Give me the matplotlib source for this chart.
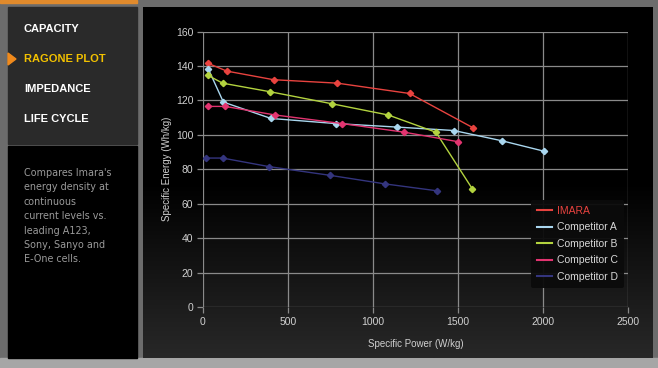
import numpy as np
import matplotlib
matplotlib.use("Agg")
import matplotlib.pyplot as plt
from matplotlib.patches import Rectangle, Polygon

# data
imara_x = [30, 140, 415, 790, 1215, 1590]
imara_y = [141.5, 137, 132, 130, 124, 104]
comp_a_x = [30, 120, 400, 785, 1140, 1475, 1760, 2005]
comp_a_y = [138.5, 119, 109.5, 106.5, 104.5, 102.5, 96.5, 90.5]
comp_b_x = [30, 115, 395, 760, 1090, 1370, 1585]
comp_b_y = [134.5, 130, 125, 118, 111.5, 101.5, 68.5]
comp_c_x = [30, 130, 425, 820, 1185, 1500]
comp_c_y = [116.5, 116.5, 111.5, 106.5, 101.5, 96]
comp_d_x = [20, 115, 390, 745, 1070, 1375]
comp_d_y = [86.5, 86.5, 81.5, 76.5, 71.5, 67.5]

series_names = ["IMARA", "Competitor A", "Competitor B", "Competitor C", "Competitor D"]
series_colors = ["#e8433f", "#a9d6ee", "#b3d33f", "#e23470", "#34357e"]

x_ticks = [0, 500, 1000, 1500, 2000, 2500]
y_ticks = [0, 20, 40, 60, 80, 100, 120, 140, 160]

menu_items = ["CAPACITY", "RAGONE PLOT", "IMPEDANCE", "LIFE CYCLE"]
active_item = "RAGONE PLOT"
description = ("Compares Imara's\nenergy density at\ncontinuous\ncurrent levels vs.\n"
               "leading A123,\nSony, Sanyo and\nE-One cells.")

W, H = 658, 368
narrow = ["Liberation Sans Narrow", "Liberation Sans", "DejaVu Sans"]

fig = plt.figure(figsize=(W / 100, H / 100), dpi=100)
fig.patch.set_facecolor("#6c6c6c")

# page furniture in pixel coordinates
bg = fig.add_axes([0, 0, 1, 1])
bg.axis("off")
bg.add_patch(Rectangle((0, 358), W, 10, color="#a6a6a6"))
bg.add_patch(Rectangle((0, 0), 137, 2.5, color="#e08a2c"))
bg.add_patch(Rectangle((8, 7), 129, 137, color="#2a2a2a"))
bg.add_patch(Rectangle((8, 146), 129, 212, color="#000000"))
grad = np.linspace(0, 1, 256).reshape(-1, 1)
panel_cmap = matplotlib.colors.LinearSegmentedColormap.from_list(
    "panel", ["#000000", "#000000", "#282828"])
bg.imshow(grad, extent=(143, 653, 358, 7), cmap=panel_cmap, aspect="auto", zorder=1)
bg.set_xlim(0, W)
bg.set_ylim(H, 0)

for i, item in enumerate(menu_items):
    y = 29 + 30 * i
    col = "#f2c100" if item == active_item else "#ffffff"
    bg.text(24, y, item, color=col, fontsize=8, fontweight="bold", family=narrow,
            va="center", ha="left")
    if item == active_item:
        bg.add_patch(Polygon([(8, y - 6), (16, y), (8, y + 6)], color="#f08a1c"))

bg.text(24, 168, description, color="#9a9a9a", fontsize=6.9, va="top", ha="left",
        linespacing=1.55, family="DejaVu Sans")

# chart
ax = fig.add_axes([203 / W, 1 - 307 / H, 425 / W, (307 - 31.5) / H])
ax.set_facecolor("none")
all_x = [imara_x, comp_a_x, comp_b_x, comp_c_x, comp_d_x]
all_y = [imara_y, comp_a_y, comp_b_y, comp_c_y, comp_d_y]
for xs, ys, name, c in zip(all_x, all_y, series_names, series_colors):
    ax.plot(xs, ys, color=c, lw=1, marker="D", ms=3.2, label=name, zorder=3)

ax.set_xlim(0, 2500)
ax.set_ylim(0, 160)
ax.set_xticks(x_ticks)
ax.set_yticks(y_ticks)
ax.grid(True, color="#8a8a8a", lw=0.9)
for s in ax.spines.values():
    s.set_visible(False)
ax.tick_params(colors="#8a8a8a", labelcolor="#d0d0d0", length=4, width=0.9, labelsize=7.5, pad=3)
for lab in ax.get_xticklabels() + ax.get_yticklabels():
    lab.set_family(narrow)
ax.set_xlabel("Specific Power (W/kg)", color="#d0d0d0", fontsize=7, family=narrow, labelpad=9)
ax.set_ylabel("Specific Energy (Wh/kg)", color="#d0d0d0", fontsize=7, family=narrow, labelpad=3)

leg = ax.legend(loc="lower right", bbox_to_anchor=(1.004, 0.05), frameon=True,
                handlelength=1.4, handletextpad=0.5, labelspacing=0.62, borderpad=0.6,
                prop={"family": narrow, "size": 7.5})
leg.get_frame().set_facecolor("#0b0b0b")
leg.get_frame().set_edgecolor("none")
leg.get_frame().set_alpha(0.95)
for t in leg.get_texts():
    t.set_color("#e8433f" if t.get_text() == "IMARA" else "#d8d8d8")
for h in leg.legend_handles:
    h.set_marker("")
    h.set_linewidth(1.5)

fig.savefig("out.png", dpi=100, facecolor=fig.get_facecolor())
